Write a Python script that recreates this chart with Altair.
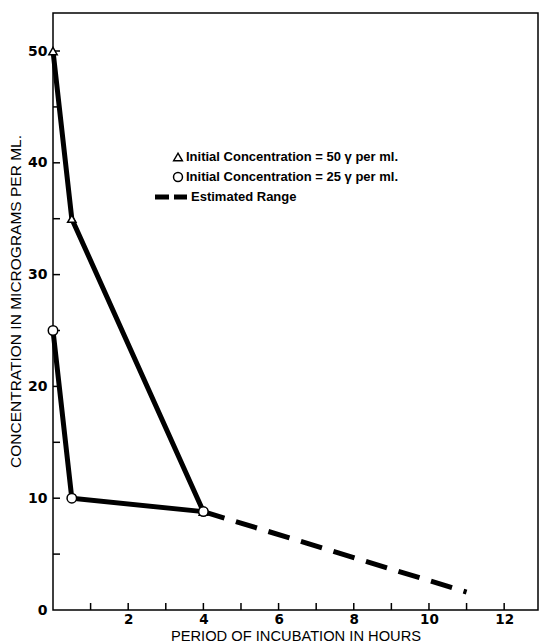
import altair as alt
import pandas as pd

# Measured concentrations (micrograms per ml) against incubation time (hours)
hours_50 = [0, 0.5, 4]
conc_50 = [50, 35, 8.8]
hours_25 = [0, 0.5, 4]
conc_25 = [25, 10, 8.8]
est_hours = [4, 11]
est_conc = [8.8, 1.6]

x_ticks = list(range(1, 13))
x_labels = [2, 4, 6, 8, 10, 12]
y_ticks = list(range(5, 55, 5))
y_labels = [0, 10, 20, 30, 40, 50]

W, H = 485, 597
FONT = "Liberation Sans"
NUM_FONT = "DejaVu Sans"

s50 = pd.DataFrame({"h": hours_50, "c": conc_50})
s25 = pd.DataFrame({"h": hours_25, "c": conc_25})
est = pd.DataFrame({"h": est_hours, "c": est_conc})

xs = alt.Scale(domain=[0, 12.9], nice=False)
ys = alt.Scale(domain=[0, 53.4], nice=False)

x_axis = alt.Axis(values=x_labels, ticks=False, grid=False, domain=False,
                  labelFont=NUM_FONT, labelFontSize=13.5, labelFontWeight="bold",
                  labelColor="black", labelPadding=2,
                  title="PERIOD OF INCUBATION IN HOURS", titleFont=FONT,
                  titleFontSize=14.7, titleFontWeight="normal", titleColor="black",
                  titleY=30, titleBaseline="alphabetic")
y_axis = alt.Axis(values=y_labels, ticks=False, grid=False, domain=False,
                  labelFont=NUM_FONT, labelFontSize=14, labelFontWeight="bold",
                  labelColor="black", labelPadding=6,
                  title="CONCENTRATION IN MICROGRAMS PER ML.", titleFont=FONT,
                  titleFontSize=15.5, titleFontWeight="normal", titleColor="black",
                  titlePadding=4, titleY=288)

base_x = alt.X("h:Q", scale=xs, axis=x_axis)
base_y = alt.Y("c:Q", scale=ys, axis=y_axis)

line50 = alt.Chart(s50).mark_line(color="black", strokeWidth=5).encode(x=base_x, y=base_y)
line25 = alt.Chart(s25).mark_line(color="black", strokeWidth=5).encode(x=base_x, y=base_y)
dash = alt.Chart(est).mark_line(color="black", strokeWidth=5, strokeDash=[22, 12]).encode(
    x=alt.X("h:Q", scale=xs), y=alt.Y("c:Q", scale=ys))

pts50 = alt.Chart(s50).mark_point(shape="triangle-up", size=70, filled=True, fill="white",
                                  stroke="black", strokeWidth=1.5, opacity=1).encode(
    x=alt.X("h:Q", scale=xs), y=alt.Y("c:Q", scale=ys))
pts25 = alt.Chart(s25).mark_point(shape="circle", size=90, filled=True, fill="white",
                                  stroke="black", strokeWidth=1.5, opacity=1).encode(
    x=alt.X("h:Q", scale=xs), y=alt.Y("c:Q", scale=ys))

# inward tick marks along both axes
xt = alt.Chart(pd.DataFrame({"t": x_ticks})).mark_rule(color="black", strokeWidth=1.5).encode(
    x=alt.X("t:Q", scale=xs), y=alt.value(H), y2=alt.value(H - 7))
yt = alt.Chart(pd.DataFrame({"t": y_ticks})).mark_rule(color="black", strokeWidth=1.5).encode(
    y=alt.Y("t:Q", scale=ys), x=alt.value(0), x2=alt.value(7))

# key
leg_labels = ["Initial Concentration = 50 \u03b3 per ml.",
              "Initial Concentration = 25 \u03b3 per ml.",
              "Estimated Range"]
leg_tri = alt.Chart(pd.DataFrame({"k": [0]})).mark_point(
    shape="triangle-up", size=75, stroke="black", strokeWidth=1.5, fill="white", filled=True,
    opacity=1).encode(x=alt.value(125), y=alt.value(144))
leg_circ = alt.Chart(pd.DataFrame({"k": [0]})).mark_point(
    shape="circle", size=80, stroke="black", strokeWidth=1.5, fill="white", filled=True,
    opacity=1).encode(x=alt.value(125), y=alt.value(164))
leg_dash = alt.Chart(pd.DataFrame({"k": [0]})).mark_rule(
    color="black", strokeWidth=5, strokeDash=[14, 5]).encode(
    x=alt.value(102), x2=alt.value(134), y=alt.value(184))
leg_text = alt.Chart(pd.DataFrame({"t": leg_labels, "yy": [144, 164, 184], "xx": [133, 133, 138]})).mark_text(
    align="left", baseline="middle", font=FONT, fontSize=13, fontWeight="bold", color="black").encode(
    text="t:N", x=alt.X("xx:Q", scale=None), y=alt.Y("yy:Q", scale=None))

chart = alt.layer(line50, line25, dash, xt, yt, pts50, pts25,
                  leg_tri, leg_circ, leg_dash, leg_text).properties(
    width=W, height=H,
    autosize=alt.AutoSizeParams(type="none"),
    padding={"left": 53, "top": 13, "right": 2, "bottom": 34},
    background="white",
).configure_view(stroke="black", strokeWidth=1.5)

chart.save("out.html", embed_options={"renderer": "svg", "actions": False})
